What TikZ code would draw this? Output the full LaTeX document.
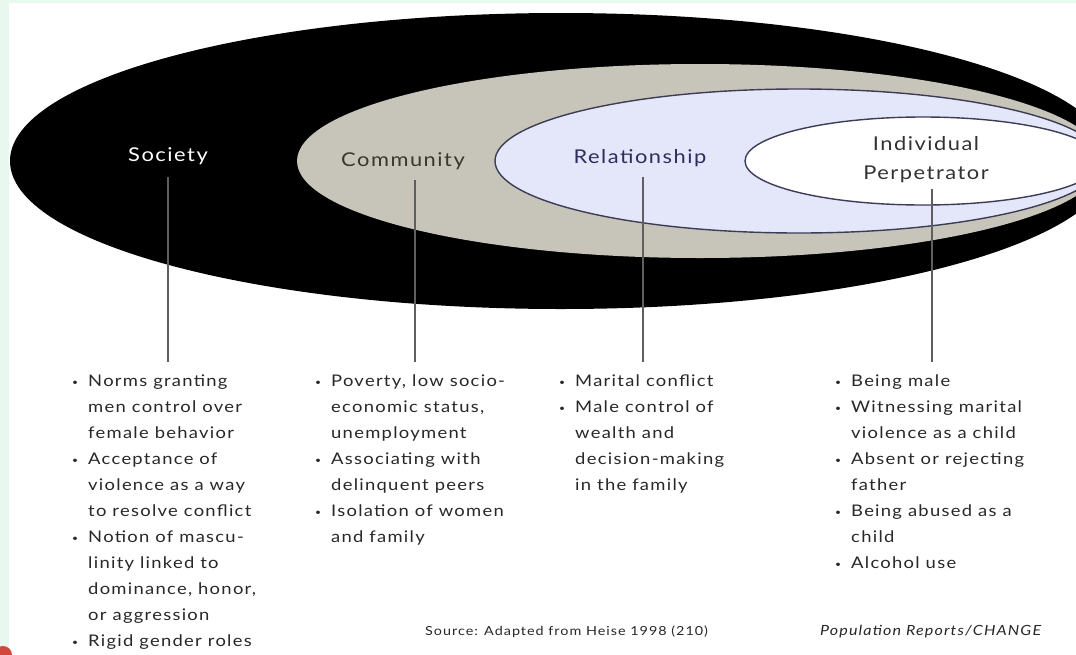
\documentclass[tikz,border=0pt]{standalone}
\usepackage{fontspec}
\setmainfont{Lato}[FakeStretch=1.15, LetterSpace=8]
\definecolor{bgstrip}{RGB}{232,248,238}
\definecolor{grayfill}{RGB}{199,197,185}
\definecolor{lavfill}{RGB}{228,230,250}
\definecolor{edgec}{RGB}{60,60,85}
\definecolor{bodyc}{RGB}{40,40,40}
\definecolor{commc}{RGB}{55,55,45}
\definecolor{relc}{RGB}{45,45,95}
\definecolor{indc}{RGB}{50,50,50}
\definecolor{connc}{RGB}{95,95,95}
\definecolor{blobc}{RGB}{210,70,60}
\newcommand\bulx{\makebox[16pt][l]{\raisebox{1.5pt}{\fontsize{9}{9}\selectfont •}}}
\newcommand\indx{\hspace*{16pt}}
\tikzset{
  lab/.style={font=\fontsize{19}{28}\selectfont, inner sep=0pt},
  listn/.style={font=\fontsize{16}{26}\selectfont, text=bodyc, align=left, anchor=north west, inner sep=0pt},
  conn/.style={draw=connc, line width=2.2pt},
  srcn/.style={font=\fontsize{12.5}{14}\selectfont, text=bodyc, anchor=west, inner sep=0pt}
}
\begin{document}
\begin{tikzpicture}[x=1pt,y=-1pt]
\useasboundingbox (0,0) rectangle (1076,654);
\fill[white] (0,0) rectangle (1076,654);
\fill[bgstrip] (0,0) rectangle (9,654);
\fill[bgstrip] (0,0) rectangle (1076,3);
\fill[blobc] (3,655) circle [radius=9pt];
\begin{scope}
\clip (0,0) rectangle (1076,654);
\fill[black] (561,161) ellipse [x radius=551pt, y radius=148pt];
\fill[grayfill] (700,161) ellipse [x radius=403pt, y radius=97pt];
\filldraw[fill=lavfill, draw=edgec, line width=1.4pt] (799,161) ellipse [x radius=304pt, y radius=72pt];
\filldraw[fill=white, draw=edgec, line width=1.4pt] (923,161) ellipse [x radius=178pt, y radius=44pt];
\end{scope}
\node[lab, text=white] (soc) at (168,156) {Society};
\node[lab, text=commc] (com) at (403,161) {Community};
\node[lab, text=relc] (rel) at (640,158) {Relationship};
\node[lab, text=indc, align=center, font=\fontsize{19}{29}\selectfont] (ind) at (926,160) {Individual\\Perpetrator};
\coordinate (c1) at (168,362);
\coordinate (c2) at (415,362);
\coordinate (c3) at (643,362);
\coordinate (c4) at (932,362);
\draw[conn, shorten <=12pt] (soc.south -| c1) -- (c1);
\draw[conn, shorten <=10pt] (com.south -| c2) -- (c2);
\draw[conn, shorten <=10pt] (rel.south -| c3) -- (c3);
\draw[conn, shorten <=6pt] (ind.south -| c4) -- (c4);
\node[listn] (l1) at (72,375) {\bulx Norms granting\\\indx men control over\\\indx female behavior\\\bulx Acceptance of\\\indx violence as a way\\\indx to resolve conflict\\\bulx Notion of mascu-\\\indx linity linked to\\\indx dominance, honor,\\\indx or aggression\\\bulx Rigid gender roles};
\node[listn] (l2) at (315,375) {\bulx Poverty, low socio-\\\indx economic status,\\\indx unemployment\\\bulx Associating with\\\indx delinquent peers\\\bulx Isolation of women\\\indx and family};
\node[listn] (l3) at (559,375) {\bulx Marital conflict\\\bulx Male control of\\\indx wealth and\\\indx decision-making\\\indx in the family};
\node[listn] (l4) at (835,375) {\bulx Being male\\\bulx Witnessing marital\\\indx violence as a child\\\bulx Absent or rejecting\\\indx father\\\bulx Being abused as a\\\indx child\\\bulx Alcohol use};
\node[srcn] (src) at (425,632) {Source: Adapted from Heise 1998 (210)};
\node[srcn, font=\fontsize{14}{16}\selectfont\itshape] (pop) at (820,632) {Population Reports/CHANGE};
\end{tikzpicture}
\end{document}
